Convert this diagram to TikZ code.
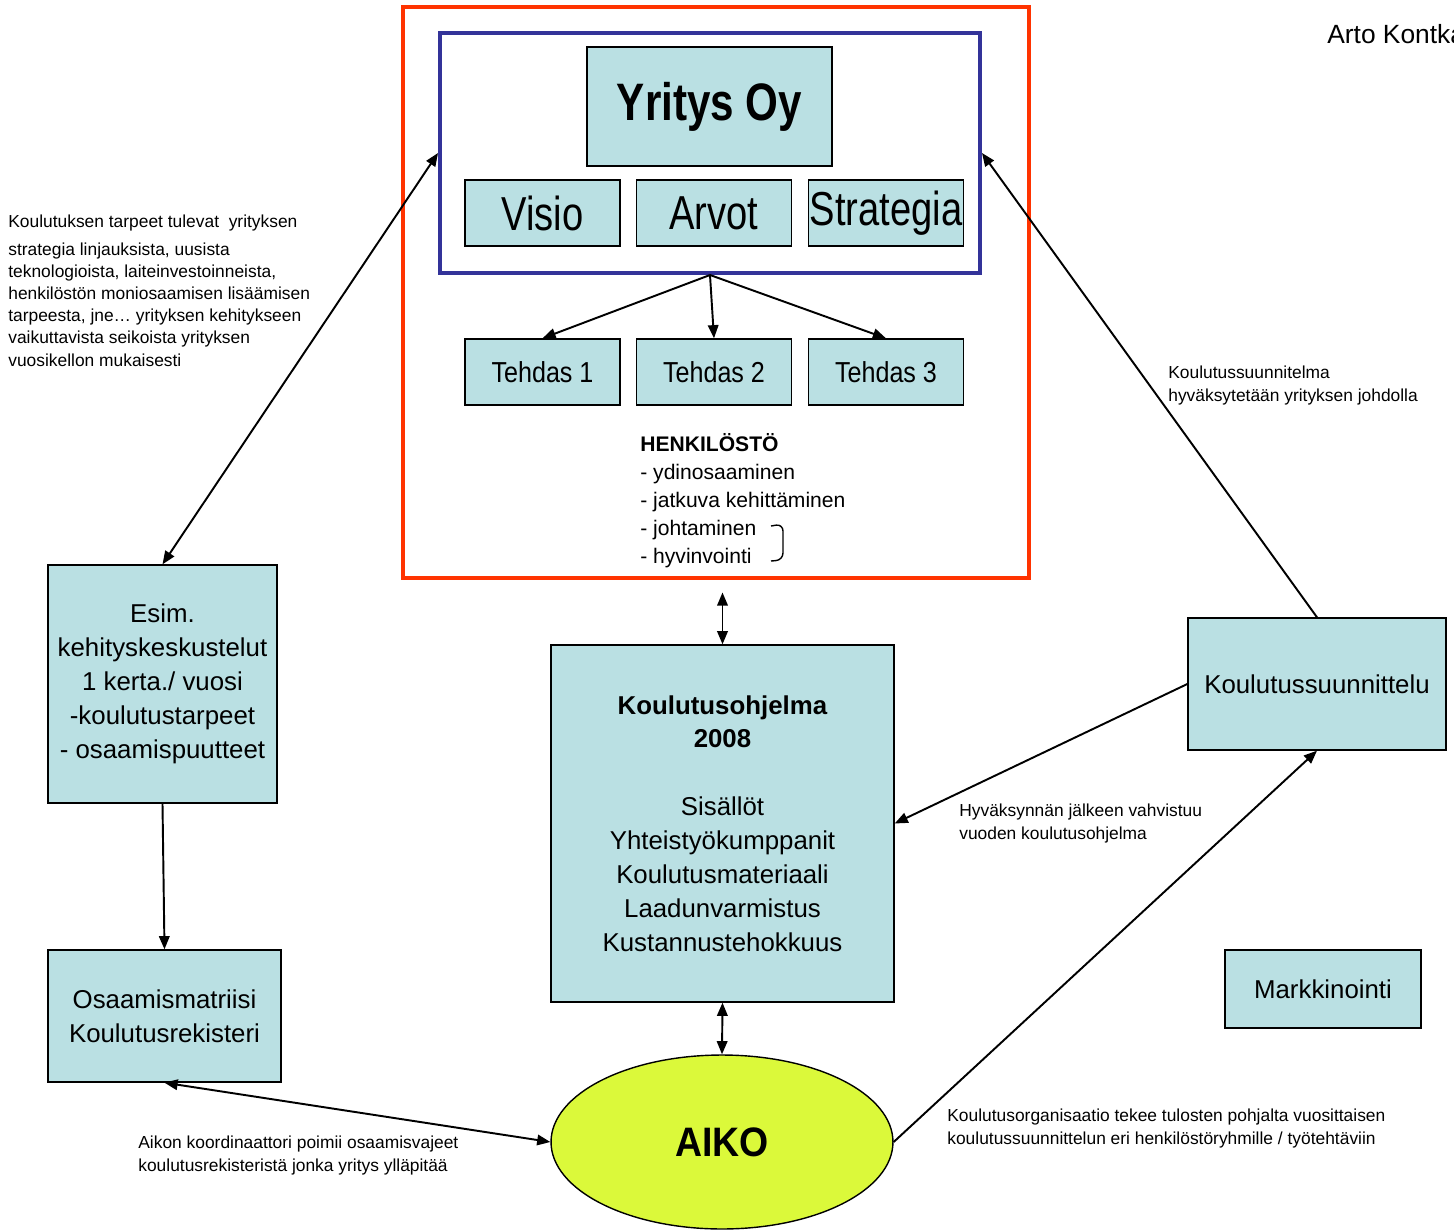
\documentclass[tikz,border=0pt]{standalone}
\usepackage{fontspec}
\setmainfont{Liberation Sans}
\usetikzlibrary{arrows.meta,shapes.geometric}
\definecolor{boxfill}{HTML}{BAE0E3}
\definecolor{redline}{HTML}{FF3300}
\definecolor{blueline}{HTML}{333399}
\definecolor{aikofill}{HTML}{DBF93A}
\newcommand{\tallText}[2]{\scalebox{1}[#1]{#2}}

\begin{document}
\begin{tikzpicture}[x=0.02cm, y=-0.02cm,
        box/.style={draw=black, fill=boxfill, line width=0.8pt, inner sep=0pt, align=center},
        valuebox/.style={box, minimum width=3.1cm, minimum height=1.32cm, font=\fontsize{21.7}{26}\selectfont},
        plantbox/.style={box, minimum width=3.1cm, minimum height=1.32cm, font=\fontsize{14.3}{17}\selectfont},
        bigbox/.style={box, font=\fontsize{14.7}{19.3}\selectfont},
        frame/.style={line width=2.3pt, inner sep=0pt},
        note/.style={anchor=north west, inner sep=0pt, align=left, font=\fontsize{9.9}{12.6}\selectfont},
        arrow/.style={->, >={Triangle[length=7.5pt,width=6pt]}, line width=1.1pt},
        dblarrow/.style={arrow, <->}]

        \useasboundingbox (0,0) rectangle (1454,1230);

        \node[frame, draw=redline, minimum width=12.52cm, minimum height=11.42cm] (red) at (716,292.5) {};
        \node[frame, draw=blueline, minimum width=10.8cm, minimum height=4.8cm] (blue) at (710,153) {};
        \node[box, minimum width=4.9cm, minimum height=2.38cm, font=\fontsize{24}{28}\selectfont\bfseries] (yritys) at (709.5,106.5) {\tallText{1.25}{Yritys Oy}};
        \node[valuebox] (visio) at (542.5,213) {\tallText{1.25}{Visio}};
        \node[valuebox] (arvot) at (714,213) {\tallText{1.25}{Arvot}};
        \node[valuebox] (strategia) at (886,213) {\tallText{1.25}{Strategia}};
        \node[plantbox] (t1) at (542.5,372) {\tallText{1.15}{Tehdas 1}};
        \node[plantbox] (t2) at (714,372) {\tallText{1.15}{Tehdas 2}};
        \node[plantbox] (t3) at (886,372) {\tallText{1.15}{Tehdas 3}};
        \node[anchor=north west, inner sep=0pt, align=left, font=\fontsize{12}{15.9}\selectfont] (henk) at (640,433)
          {\textbf{HENKILÖSTÖ}\\- ydinosaaminen\\- jatkuva kehittäminen\\- johtaminen\\- hyvinvointi};
        \draw[line width=0.8pt, rounded corners=4pt] (771,526) -- (783,524) -- (783,560) -- (771,561);

        \node[bigbox, minimum width=4.58cm, minimum height=4.76cm] (esim) at (162.5,684)
          {Esim.\\kehityskeskustelut\\1 kerta./ vuosi\\-koulutustarpeet\\- osaamispuutteet};
        \node[bigbox, minimum width=4.66cm, minimum height=2.64cm] (osaam) at (164.5,1016)
          {Osaamismatriisi\\Koulutusrekisteri};
        \node[bigbox, minimum width=6.86cm, minimum height=7.14cm] (kohj) at (722.5,823.5)
          {\textbf{Koulutusohjelma}\\\textbf{2008}\\[19.3pt]Sisällöt\\Yhteistyökumppanit\\Koulutusmateriaali\\Laadunvarmistus\\Kustannustehokkuus};
        \node[bigbox, minimum width=5.16cm, minimum height=2.64cm] (ksuun) at (1317,684) {Koulutussuunnittelu};
        \node[bigbox, minimum width=3.92cm, minimum height=1.56cm] (mark) at (1323,989) {Markkinointi};
        \node[ellipse, draw=black, fill=aikofill, line width=0.8pt, inner sep=0pt, minimum width=6.84cm, minimum height=3.48cm,
          font=\fontsize{21.3}{25}\selectfont\bfseries] (aiko) at (722,1142) {\tallText{1.1}{AIKO}};

        \node[anchor=west, inner sep=0pt, font=\fontsize{15}{18}\selectfont] (author) at (1327,34) {Arto Kontka};

        \node[note] (needs) at (8,215) {Koulutuksen tarpeet tulevat\ \ yrityksen\\[3pt]strategia linjauksista, uusista\\teknologioista, laiteinvestoinneista,\\henkilöstön moniosaamisen lisäämisen\\tarpeesta, jne… yrityksen kehitykseen\\vaikuttavista seikoista yrityksen\\vuosikellon mukaisesti};
        \node[note] (approve) at (1168,366) {Koulutussuunnitelma\\hyväksytetään yrityksen johdolla};
        \node[note] (confirm) at (959,804) {Hyväksynnän jälkeen vahvistuu\\vuoden koulutusohjelma};
        \node[note] (orgnote) at (947,1109) {Koulutusorganisaatio tekee tulosten pohjalta vuosittaisen\\koulutussuunnittelun eri henkilöstöryhmille / työtehtäviin};
        \node[note] (coord) at (138,1136) {Aikon koordinaattori poimii osaamisvajeet\\koulutusrekisteristä jonka yritys ylläpitää};

        \draw[arrow] (blue.south) -- (t1.north);
        \draw[arrow] (blue.south) -- (t2.north);
        \draw[arrow] (blue.south) -- (t3.north);
        \draw[dblarrow] (esim.north) -- (blue.west);
        \draw[arrow] (esim.south) -- (osaam.north);
        \draw[dblarrow, shorten <=0.25cm] (red.south -| kohj.north) -- (kohj.north);
        \draw[dblarrow] (kohj.south) -- (aiko.north);
        \draw[dblarrow] (osaam.south) -- (aiko.west);
        \draw[arrow] (aiko.east) -- (ksuun.south);
        \draw[arrow] (ksuun.west) -- (kohj.east);
        \draw[arrow] (ksuun.north) -- (blue.east);
      \end{tikzpicture}
\end{document}
